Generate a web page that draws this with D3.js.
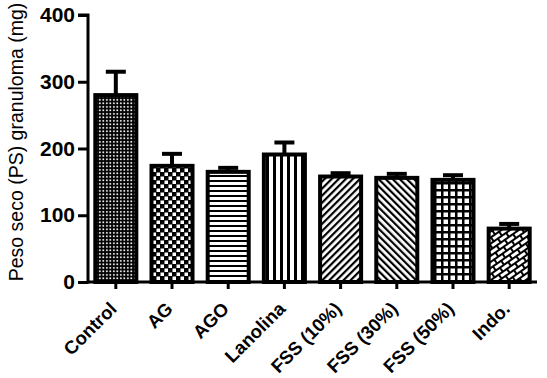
<!DOCTYPE html>
<html>
<head>
<meta charset="utf-8">
<script src="https://cdn.jsdelivr.net/npm/d3@7"></script>
<style>
  body { margin: 0; background: #fff; }
  svg { display: block; font-family: "Liberation Sans", Arial, sans-serif; }
</style>
</head>
<body>
<svg id="chart" width="547" height="378"></svg>
<script>
const categories = ['Control', 'AG', 'AGO', 'Lanolina', 'FSS (10%)', 'FSS (30%)', 'FSS (50%)', 'Indo.'];
const means = [280, 174, 165, 191, 158, 156, 153, 80];
const errors = [35, 18, 6, 18, 5, 6, 7, 7];
const patternNames = ['dots', 'checker', 'hlines', 'vlines', 'diagUp', 'diagDown', 'grid', 'brick'];
const yTicks = [0, 100, 200, 300, 400];

const svg = d3.select('#chart');
const margin = { top: 15, right: 10, bottom: 96, left: 88 };

const x = d3.scaleBand().domain(categories).range([margin.left, 537]).paddingInner(0.27).paddingOuter(0.13);
const y = d3.scaleLinear().domain([0, 400]).range([282, margin.top]);

// fill patterns, one per bar
const defs = svg.append('defs');
function pattern(id, w, h) {
  const p = defs.append('pattern').attr('id', id).attr('patternUnits', 'userSpaceOnUse').attr('width', w).attr('height', h);
  p.append('rect').attr('width', w).attr('height', h).attr('fill', '#fff');
  return p;
}
let p = pattern('dots', 3.5, 3.5);
p.append('rect').attr('width', 3.5).attr('height', 3.5).attr('fill', '#000');
p.append('rect').attr('x', 1).attr('y', 1).attr('width', 1.7).attr('height', 1.7).attr('fill', '#fff');

p = pattern('checker', 8, 8);
p.append('rect').attr('width', 8).attr('height', 8).attr('fill', '#000');
p.append('rect').attr('x', 0.5).attr('y', 0.5).attr('width', 3.5).attr('height', 3.5).attr('fill', '#fff');
p.append('rect').attr('x', 4.5).attr('y', 4.5).attr('width', 3.5).attr('height', 3.5).attr('fill', '#fff');

p = pattern('hlines', 5, 5);
p.append('rect').attr('width', 5).attr('height', 2).attr('fill', '#000');

p = pattern('vlines', 7, 7);
p.append('rect').attr('width', 3).attr('height', 7).attr('fill', '#000');

p = pattern('diagUp', 5, 5);
p.attr('patternTransform', 'rotate(45)');
p.append('rect').attr('width', 2.2).attr('height', 5).attr('fill', '#000');

p = pattern('diagDown', 5, 5);
p.attr('patternTransform', 'rotate(-45)');
p.append('rect').attr('width', 2.2).attr('height', 5).attr('fill', '#000');

p = pattern('grid', 7, 7);
p.append('rect').attr('width', 7).attr('height', 2.5).attr('fill', '#000');
p.append('rect').attr('width', 2.5).attr('height', 7).attr('fill', '#000');

p = pattern('brick', 10, 10);
p.attr('patternTransform', 'rotate(-35)');
p.append('rect').attr('width', 10).attr('height', 2).attr('fill', '#000');
p.append('rect').attr('y', 5).attr('width', 10).attr('height', 2).attr('fill', '#000');
p.append('rect').attr('x', 0).attr('y', 0).attr('width', 2).attr('height', 5).attr('fill', '#000');
p.append('rect').attr('x', 5).attr('y', 5).attr('width', 2).attr('height', 5).attr('fill', '#000');

const data = categories.map((c, i) => ({ c, mean: means[i], err: errors[i], pat: patternNames[i] }));

// error bars (upper only), drawn behind the bars
const eb = svg.append('g').attr('stroke', '#000').attr('stroke-width', 4);
data.forEach((d) => {
  const cx = x(d.c) + x.bandwidth() / 2;
  eb.append('line').attr('x1', cx).attr('x2', cx).attr('y1', y(d.mean)).attr('y2', y(d.mean + d.err));
  eb.append('line').attr('x1', cx - 10).attr('x2', cx + 10).attr('y1', y(d.mean + d.err)).attr('y2', y(d.mean + d.err));
});

svg.append('g')
  .selectAll('rect')
  .data(data)
  .join('rect')
  .attr('x', (d) => x(d.c))
  .attr('y', (d) => y(d.mean))
  .attr('width', x.bandwidth())
  .attr('height', (d) => y(0) - y(d.mean))
  .attr('fill', (d) => `url(#${d.pat})`)
  .attr('stroke', '#000')
  .attr('stroke-width', 4);

// axes
const yAxis = svg.append('g').attr('transform', `translate(${margin.left},0)`)
  .call(d3.axisLeft(y).tickValues(yTicks).tickSize(10).tickPadding(3));
const xAxis = svg.append('g').attr('transform', `translate(0,${y(0)})`)
  .call(d3.axisBottom(x).tickSize(7).tickSizeOuter(0).tickFormat(() => ''));

[yAxis, xAxis].forEach((g) => {
  g.select('.domain').attr('stroke', '#000').attr('stroke-width', 3);
  g.selectAll('.tick line').attr('stroke', '#000').attr('stroke-width', 3);
});
yAxis.select('.domain').attr('d', `M-10,${y(400)}H0V${y(0) + 1.5}`);
xAxis.select('.domain').attr('d', `M${margin.left},0H537`);
yAxis.selectAll('.tick text').attr('font-size', 21).attr('font-weight', 'bold').attr('fill', '#000')
  .attr('font-family', '"Liberation Sans", Arial, sans-serif');

// rotated category labels
svg.append('g')
  .selectAll('text')
  .data(categories)
  .join('text')
  .attr('transform', (d) => `translate(${x(d) + x.bandwidth() / 2 + 2},${y(0) + 28}) rotate(-45)`)
  .attr('text-anchor', 'end')
  .attr('font-size', 18.5)
  .attr('font-weight', 'bold')
  .text((d) => d);

svg.append('text')
  .attr('transform', `translate(23,142) rotate(-90)`)
  .attr('text-anchor', 'middle')
  .attr('font-size', 19.5)
  .text('Peso seco (PS) granuloma (mg)');
</script>
</body>
</html>
